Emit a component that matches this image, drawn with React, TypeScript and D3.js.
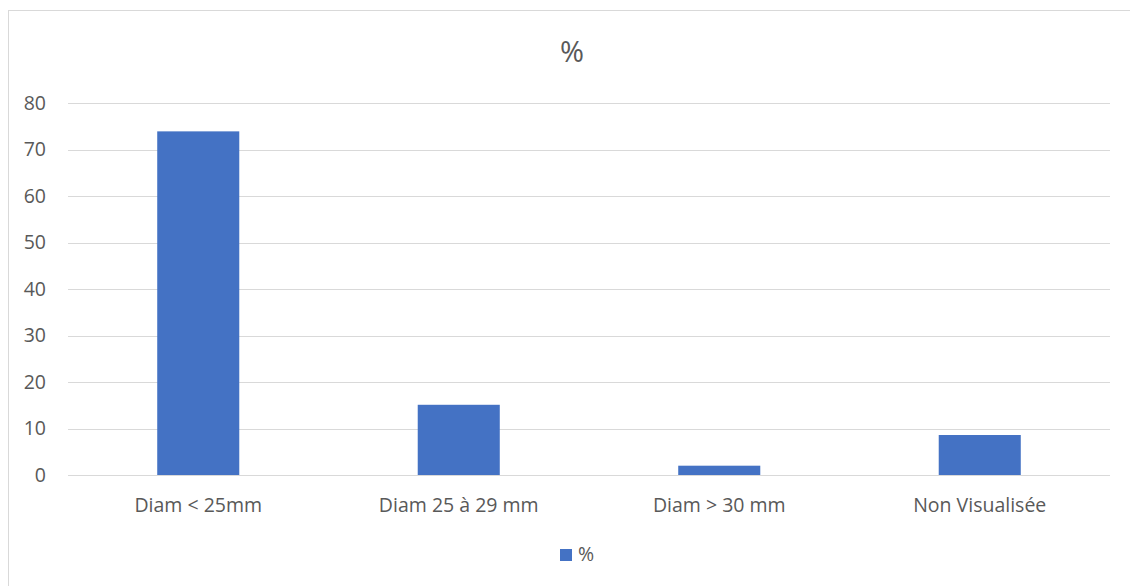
import React from "react";
import * as d3 from "d3";

const categories = ["Diam < 25mm", "Diam 25 à 29 mm", "Diam > 30 mm", "Non Visualisée"];
const values = [73.9, 15.1, 2.0, 8.6];
const yTicks = [0, 10, 20, 30, 40, 50, 60, 70, 80];
const seriesName = "%";
const title = "%";

const W = 1130;
const H = 586;
const FONT = "'Open Sans', 'Liberation Sans', sans-serif";
const TEXT = "#595959";
const FS = 19.5;

export default function App() {
  const x = d3.scaleBand<string>().domain(categories).range([68, 1110]).paddingInner(0.685).paddingOuter(0.3425);
  const y = d3.scaleLinear().domain([0, 80]).range([475, 103]);

  return (
    <svg width={W} height={H} style={{ position: "absolute", left: 0, top: 0, background: "#fff" }} fontFamily={FONT}>
      <rect x={8.5} y={10.5} width={1200} height={700} fill="#fff" stroke="#d9d9d9" strokeWidth={1} />
      <text x={572} y={62} textAnchor="middle" fontSize={29} fill={TEXT}>{title}</text>
      {yTicks.map((t) => (
        <g key={t}>
          <line x1={68} x2={1110} y1={Math.round(y(t)) + 0.5} y2={Math.round(y(t)) + 0.5} stroke="#d9d9d9" strokeWidth={1} />
          <text x={46} y={y(t)} dy="0.35em" textAnchor="end" fontSize={FS} fill={TEXT}>{t}</text>
        </g>
      ))}
      {categories.map((c, i) => (
        <rect key={c} x={x(c)} y={y(values[i])} width={x.bandwidth()} height={y(0) - y(values[i])} fill="#4472c4" />
      ))}
      {categories.map((c) => (
        <text key={c} x={(x(c) as number) + x.bandwidth() / 2} y={512} textAnchor="middle" fontSize={FS} fill={TEXT}>{c}</text>
      ))}
      <rect x={560} y={549} width={12} height={12} fill="#4472c4" />
      <text x={578} y={561} fontSize={FS} fill={TEXT}>{seriesName}</text>
    </svg>
  );
}
